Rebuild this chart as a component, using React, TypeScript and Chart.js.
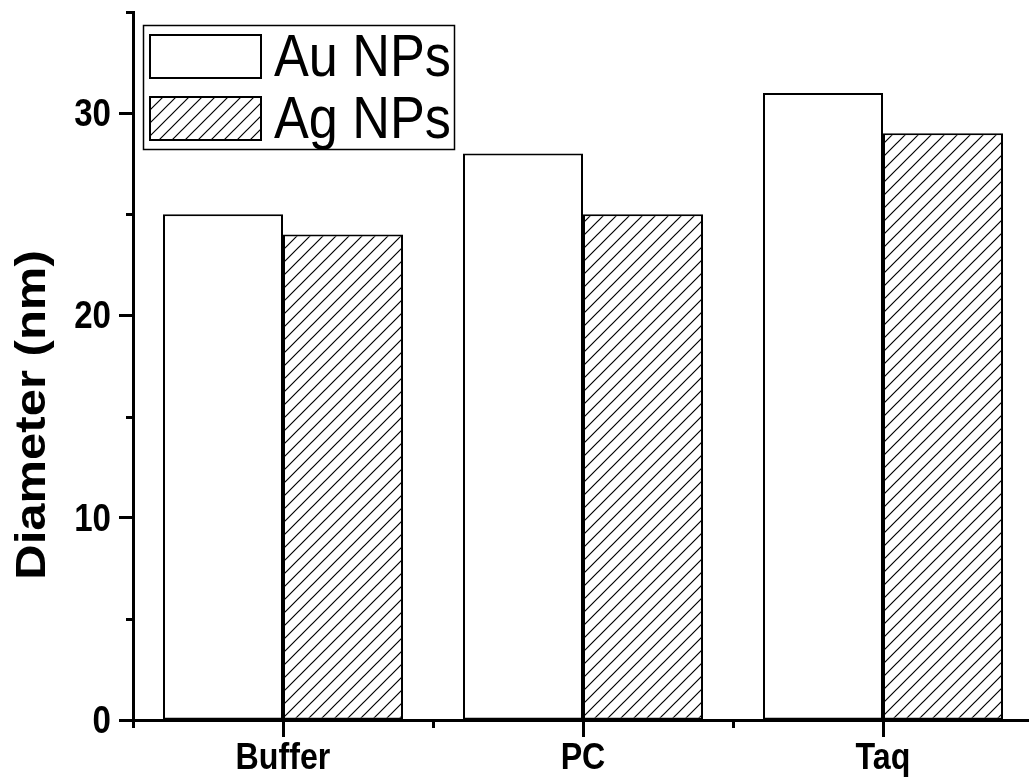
import { useEffect, useRef } from 'react';
import { Chart, registerables } from 'chart.js';

Chart.register(...registerables);

const categories = ['Buffer', 'PC', 'Taq'];
const seriesNames = ['Au NPs', 'Ag NPs'];
const auValues = [25, 28, 31];
const agValues = [24, 25, 29];
const yMin = 0;
const yMax = 35;
const yStep = 5;
const yMajorStep = 10;
const yAxisTitle = 'Diameter (nm)';

const FONT = "'Liberation Sans', Arial, Helvetica, sans-serif";
const SQUEEZE = 0.87;

function makeHatch(): CanvasPattern | string {
  const s = 13;
  const c = document.createElement('canvas');
  c.width = s;
  c.height = s;
  const g = c.getContext('2d');
  if (!g) return '#fff';
  g.fillStyle = '#fff';
  g.fillRect(0, 0, s, s);
  g.strokeStyle = '#000';
  g.lineWidth = 1.2;
  g.beginPath();
  g.moveTo(-1, s + 1);
  g.lineTo(s + 1, -1);
  g.moveTo(-1, 1);
  g.lineTo(1, -1);
  g.moveTo(s - 1, s + 1);
  g.lineTo(s + 1, s - 1);
  g.stroke();
  const p = g.createPattern(c, 'repeat');
  return p || '#fff';
}

function squeezedText(
  ctx: CanvasRenderingContext2D,
  text: string,
  x: number,
  y: number,
  font: string,
  align: CanvasTextAlign,
  baseline: CanvasTextBaseline
) {
  ctx.save();
  ctx.translate(x, y);
  ctx.scale(SQUEEZE, 1);
  ctx.font = font;
  ctx.textAlign = align;
  ctx.textBaseline = baseline;
  ctx.fillStyle = '#000';
  ctx.fillText(text, 0, 0);
  ctx.restore();
}

const extrasPlugin = {
  id: 'extras',
  afterDraw(chart: any) {
    const ctx = chart.ctx as CanvasRenderingContext2D;
    const xs = chart.scales.x;
    const ys = chart.scales.y;
    const area = chart.chartArea;
    ctx.save();
    ctx.strokeStyle = '#000';
    ctx.lineWidth = 3;
    // minor y ticks
    for (let v = yMin; v <= yMax; v += yStep) {
      if (v % yMajorStep === 0) continue;
      const py = Math.round(ys.getPixelForValue(v)) + 0.5;
      ctx.beginPath();
      ctx.moveTo(area.left - 7, py);
      ctx.lineTo(area.left, py);
      ctx.stroke();
    }
    // minor x ticks at category boundaries
    for (let i = -0.5; i < categories.length; i += 1) {
      const px = Math.round(xs.getPixelForValue(i)) + 0.5;
      ctx.beginPath();
      ctx.moveTo(px, area.bottom);
      ctx.lineTo(px, area.bottom + 8);
      ctx.stroke();
    }
    ctx.restore();

    // y tick labels
    for (let v = yMin; v <= yMax; v += yMajorStep) {
      const py = ys.getPixelForValue(v);
      squeezedText(ctx, String(v), area.left - 22, py + 13, `bold 38px ${FONT}`, 'right', 'alphabetic');
    }
    // x tick labels
    categories.forEach((c, i) => {
      const px = xs.getPixelForValue(i);
      squeezedText(ctx, c, px, area.bottom + 49, `bold 37px ${FONT}`, 'center', 'alphabetic');
    });

    // y axis title (rotated)
    ctx.save();
    ctx.translate(45, 415);
    ctx.scale(SQUEEZE, 1);
    ctx.rotate(-Math.PI / 2);
    ctx.fillStyle = '#000';
    ctx.font = `bold 49px ${FONT}`;
    ctx.textAlign = 'center';
    ctx.textBaseline = 'alphabetic';
    ctx.fillText(yAxisTitle, 0, 0);
    ctx.restore();

    // legend
    ctx.save();
    ctx.strokeStyle = '#000';
    ctx.lineWidth = 1.5;
    ctx.fillStyle = '#fff';
    ctx.fillRect(143, 25, 311, 124);
    ctx.strokeRect(143.5, 25.5, 311, 124);
    const rows = [35, 97];
    chart.data.datasets.forEach((ds: any, i: number) => {
      const y = rows[i];
      ctx.fillStyle = ds.backgroundColor;
      ctx.fillRect(150, y, 111, 43);
      ctx.lineWidth = 2;
      ctx.strokeStyle = '#000';
      ctx.strokeRect(150, y, 111, 43);
      squeezedText(ctx, ds.label, 274, y + 41, `60px ${FONT}`, 'left', 'alphabetic');
    });
    ctx.restore();
  },
};

export default function App() {
  const ref = useRef<HTMLCanvasElement>(null);
  useEffect(() => {
    if (!ref.current) return;
    const hatch = makeHatch();
    const chart = new Chart(ref.current, {
      type: 'bar',
      data: {
        labels: categories,
        datasets: [
          {
            label: seriesNames[0],
            data: auValues,
            backgroundColor: '#fff',
            borderColor: '#000',
            borderWidth: 2,
            borderSkipped: false,
            categoryPercentage: 0.8,
            barPercentage: 1.0,
          },
          {
            label: seriesNames[1],
            data: agValues,
            backgroundColor: hatch as any,
            borderColor: '#000',
            borderWidth: 2,
            borderSkipped: false,
            categoryPercentage: 0.8,
            barPercentage: 1.0,
          },
        ],
      },
      options: {
        responsive: false,
        animation: false,
        devicePixelRatio: 1,
        layout: { padding: { top: 12, right: 7, left: 0, bottom: 0 } },
        plugins: { legend: { display: false }, tooltip: { enabled: false } },
        scales: {
          x: {
            type: 'category',
            offset: true,
            grid: {
              display: true,
              drawOnChartArea: false,
              offset: false,
              tickLength: 17,
              tickWidth: 3,
              tickColor: '#000',
            },
            border: { display: true, color: '#000', width: 3 },
            ticks: { display: false },
            afterFit: (s: any) => {
              s.height = 63;
            },
          },
          y: {
            min: yMin,
            max: yMax,
            ticks: { display: false, stepSize: yStep },
            grid: {
              display: true,
              drawOnChartArea: false,
              tickLength: 14,
              tickWidth: 3,
              tickColor: (c: any) =>
                c.tick && c.tick.value % yMajorStep === 0 ? '#000' : 'rgba(0,0,0,0)',
            },
            border: { display: true, color: '#000', width: 3 },
            afterFit: (s: any) => {
              s.width = 133;
            },
          },
        },
      } as any,
      plugins: [extrasPlugin],
    });
    return () => chart.destroy();
  }, []);
  return (
    <div
      style={{
        position: 'fixed',
        left: 0,
        top: 0,
        width: 1029,
        height: 783,
        overflow: 'hidden',
        background: '#fff',
      }}
    >
      <canvas ref={ref} width={1040} height={783} style={{ display: 'block', width: 1040, height: 783 }} />
    </div>
  );
}
